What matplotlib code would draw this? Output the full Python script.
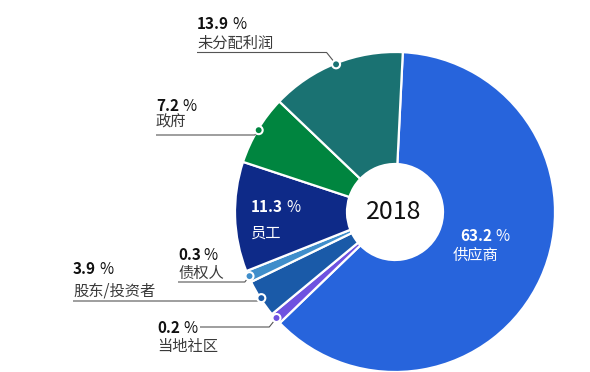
import numpy as np
import matplotlib
matplotlib.use("Agg")
import matplotlib.pyplot as plt
from matplotlib.patches import Circle

plt.rcParams["font.family"] = ["Noto Sans CJK SC", "DejaVu Sans"]

# data, clockwise from the top
categories = ["供应商", "当地社区", "股东/投资者", "债权人", "员工", "政府", "未分配利润"]
shares = [63.2, 0.2, 3.9, 0.3, 11.3, 7.2, 13.9]
colors = ["#2764DC", "#6E52E0", "#1A5AA8", "#3F8ECB", "#0E2A88", "#00853F", "#1A7272"]
year = "2018"

W, H = 590, 372
CX, CY = 395, H - 212
R, R_IN = 160, 48
MIN_SHARE = 1.2  # tiny slices are drawn with a floor so they stay visible

# label layout in pixel coords (y down): text x, pct baseline, name baseline, leader y, leader start x
outside = {
    "未分配利润": (197, 29, 48, 52.5, 197),
    "政府": (156, 111, 127, 135, 156),
    "债权人": (178, 260, 278, 282, 178),
    "股东/投资者": (73, 274, 295, 301, 73),
    "当地社区": (157, 333, 351, 327, 200),
}
inside = {
    "员工": (251, 212, 251, 238),
    "供应商": (460, 241, 453, 260),
}

fig = plt.figure(figsize=(W / 100, H / 100), dpi=100)
ax = fig.add_axes([0, 0, 1, 1])
display = [max(s, MIN_SHARE) for s in shares]
wedges, _ = ax.pie(display, colors=colors, startangle=87.2, counterclock=False,
                   radius=R, center=(CX, CY),
                   wedgeprops=dict(width=R - R_IN, edgecolor="white", linewidth=1.6))
ax.set_xlim(0, W)
ax.set_ylim(0, H)
ax.set_aspect("equal")
ax.axis("off")

ax.text(CX - 1, CY, year, ha="center", va="center", fontsize=18, color="#111111")

renderer = fig.canvas.get_renderer()


def pct_label(x, y, value, color):
    t = ax.text(x, H - y, f"{value:.1f}", fontsize=11, fontweight="bold",
                color=color, va="baseline", ha="left")
    bb = t.get_window_extent(renderer)
    ax.text(bb.x1 + 3, H - y, "%", fontsize=11, color=color,
            va="baseline", ha="left")


for name, share, w, col in zip(categories, shares, wedges, colors):
    mid = np.deg2rad((w.theta1 + w.theta2) / 2)
    dx, dy = CX + (R - 1) * np.cos(mid), CY + (R - 1) * np.sin(mid)
    if name in outside:
        tx, pb, nb, ly, lx0 = outside[name]
        pct_label(tx, pb, share, "#111111")
        ax.text(tx, H - nb, name, fontsize=11, color="#3a3a3a", va="baseline")
        ly = H - ly
        elbow = dx - 0.8 * abs(dy - ly)
        ax.plot([lx0, elbow, dx], [ly, ly, dy], color="#555555", lw=0.8,
                solid_capstyle="butt", zorder=3)
        ax.add_patch(Circle((dx, dy), 4, facecolor=col, edgecolor="white",
                            linewidth=1.5, zorder=4))
    else:
        px, pb, nx, nb = inside[name]
        pct_label(px, pb, share, "white")
        ax.text(nx, H - nb, name, fontsize=11, color="white", va="baseline")

fig.savefig("out.png", dpi=100)
